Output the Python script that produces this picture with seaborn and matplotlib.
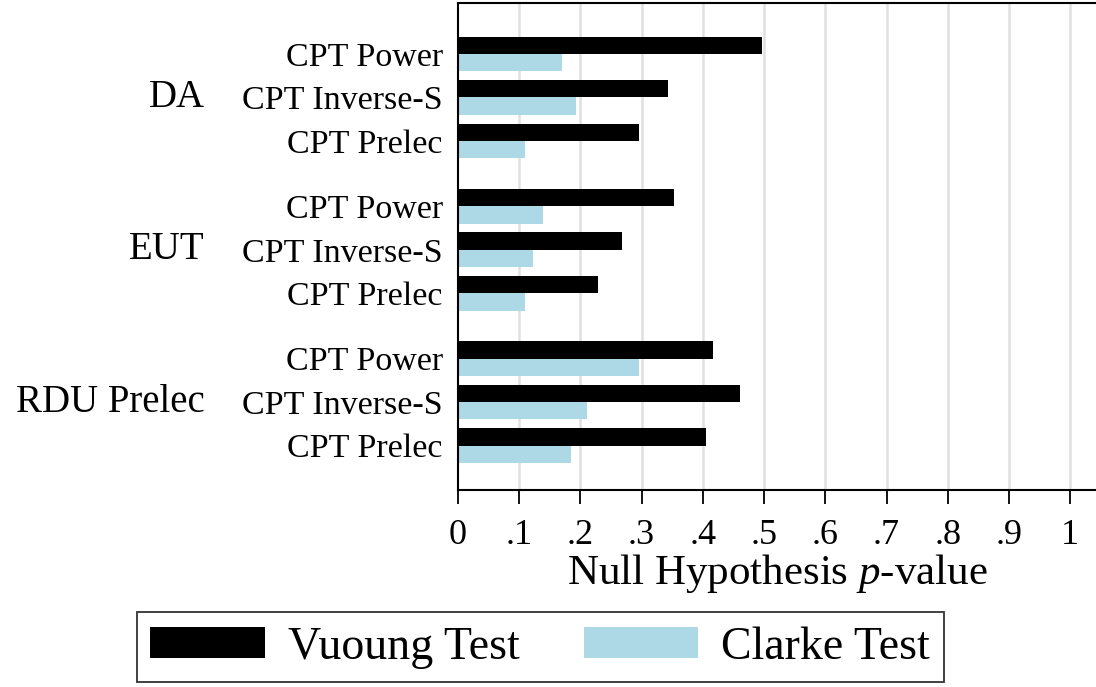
import pandas as pd
import matplotlib.pyplot as plt
import matplotlib.transforms as mtransforms
from matplotlib.patches import Patch
import seaborn as sns

# Values
groups = ["DA", "EUT", "RDU Prelec"]
models = ["CPT Power", "CPT Inverse-S", "CPT Prelec"]
vuong = [0.497, 0.343, 0.295,
         0.352, 0.268, 0.228,
         0.417, 0.461, 0.405]
clarke = [0.170, 0.192, 0.110,
          0.139, 0.123, 0.110,
          0.296, 0.210, 0.185]
tests = ["Vuoung Test", "Clarke Test"]
xticks = [0, .1, .2, .3, .4, .5, .6, .7, .8, .9, 1]
xticklabels = ["0", ".1", ".2", ".3", ".4", ".5", ".6", ".7", ".8", ".9", "1"]

sns.set_style("white")
plt.rcParams['font.family'] = 'serif'
plt.rcParams['font.serif'] = ['Liberation Serif', 'DejaVu Serif']
plt.rcParams['mathtext.fontset'] = 'custom'
plt.rcParams['mathtext.it'] = 'Liberation Serif:italic'
plt.rcParams['mathtext.rm'] = 'Liberation Serif'
for k in ['text.color', 'axes.labelcolor', 'xtick.color', 'ytick.color']:
    plt.rcParams[k] = 'black'

# long table, one row per bar; groups separated by half a slot
rows = []
for gi, g in enumerate(groups):
    for mi, m in enumerate(models):
        k = gi * len(models) + mi
        pos = gi * 3.5 + mi
        rows.append({"pos": pos, "model": m, "group": g, "test": tests[0], "p": vuong[k]})
        rows.append({"pos": pos, "model": m, "group": g, "test": tests[1], "p": clarke[k]})
df = pd.DataFrame(rows)

fig = plt.figure(figsize=(10.96, 6.87), dpi=100)
ax = fig.add_axes([458 / 1096, 1 - 490 / 687, 1 - 458 / 1096, 487 / 687])

colors = {"Vuoung Test": "black", "Clarke Test": "lightblue"}
sns.barplot(data=df, x="p", y="pos", hue="test", hue_order=tests, palette=colors,
            orient="h", native_scale=True, width=0.8, linewidth=0, saturation=1,
            legend=False, ax=ax)

ax.set_xlim(0, 1.042)
ax.set_ylim(10.02, -1.17)

# vertical grid lines
for t in xticks[1:]:
    ax.axvline(t, color="#e0e0e0", lw=1.8, zorder=0)

pos_list = df.drop_duplicates("pos")
ax.set_yticks(pos_list["pos"])
ax.set_yticklabels(pos_list["model"], fontsize=24.5)
ax.tick_params(axis="y", length=0, pad=11)
ax.set_xticks(xticks)
ax.set_xticklabels(xticklabels, fontsize=26)
ax.tick_params(axis="x", bottom=True, length=10, width=1.3, direction="out", pad=11,
               color="black")
ax.set_ylabel("")
ax.set_xlabel("Null Hypothesis $\\it{p}$-value", fontsize=31, labelpad=0)

for s in ["left", "bottom", "top"]:
    ax.spines[s].set_visible(True)
    ax.spines[s].set_color("black")
    ax.spines[s].set_linewidth(1.5)
ax.spines["right"].set_visible(False)

# group labels to the left of the model labels
trans = mtransforms.blended_transform_factory(fig.transFigure, ax.transData)
for gi, g in enumerate(groups):
    ax.text(205 / 1096, gi * 3.5 + 1, g, transform=trans, ha="right", va="center",
            fontsize=28)

handles = [Patch(facecolor=colors[t], edgecolor="none", label=t) for t in tests]
leg = fig.legend(handles=handles, loc="lower center", bbox_to_anchor=(0.493, 0.0),
                 ncol=2, fontsize=33, frameon=True, fancybox=False,
                 handlelength=2.5, handleheight=0.65, columnspacing=1.4,
                 borderpad=0.3, handletextpad=0.5, borderaxespad=0.1)
leg.get_frame().set_edgecolor("black")
leg.get_frame().set_linewidth(1.3)

fig.savefig("out.png", dpi=100)
